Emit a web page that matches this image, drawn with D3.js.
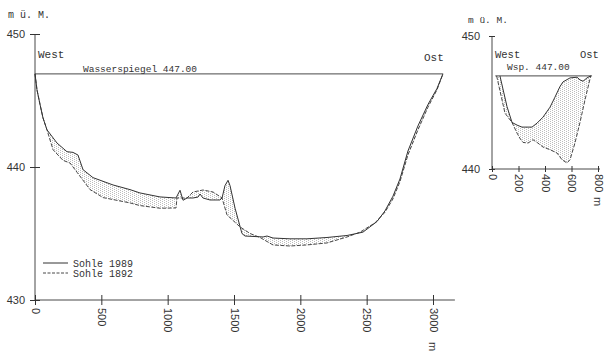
<!DOCTYPE html>
<html>
<head>
<meta charset="utf-8">
<script src="https://cdn.jsdelivr.net/npm/d3@7"></script>
<style>
  body { margin: 0; background: #fff; }
  svg { display: block; }
</style>
</head>
<body>
<svg id="chart" width="608" height="354"></svg>
<script>
// Querprofil, Hauptbecken: [Distanz m, Höhe m ü. M.]
const mainSohle1989 = [
  [0, 447.0], [15, 445.8], [38, 444.7], [60, 443.7], [90, 442.8], [166, 441.8],
  [241, 441.15], [286, 441.1], [324, 440.9], [362, 439.8], [437, 439.2], [588, 438.65],
  [716, 438.3], [791, 438.05], [942, 437.75], [1063, 437.67], [1093, 438.25], [1116, 437.5],
  [1146, 437.67], [1191, 437.67], [1229, 437.74], [1244, 437.97], [1266, 437.67], [1319, 437.52],
  [1394, 437.52], [1410, 437.67], [1432, 438.6], [1455, 439.0], [1470, 438.6], [1508, 436.9],
  [1560, 435.0], [1583, 434.81], [1719, 434.74], [1749, 434.81], [1794, 434.66], [1922, 434.6],
  [2050, 434.6], [2201, 434.7], [2352, 434.85], [2472, 435.1], [2578, 435.9], [2638, 436.7],
  [2698, 437.8], [2751, 439.1], [2811, 441.2], [2887, 443.1], [2962, 444.7], [3030, 445.9],
  [3075, 447.0]
];
const mainSohle1892 = [
  [0, 447.0], [15, 445.8], [38, 444.7], [60, 443.7], [90, 442.8], [136, 441.3],
  [211, 440.5], [264, 440.3], [317, 439.6], [415, 438.3], [513, 437.7], [716, 437.3],
  [791, 437.1], [942, 436.9], [1063, 436.92], [1070, 437.67], [1146, 437.67], [1191, 438.12],
  [1266, 438.27], [1342, 438.12], [1410, 437.67], [1447, 436.4], [1545, 435.5], [1621, 435.0],
  [1696, 434.7], [1794, 434.14], [1922, 434.06], [2050, 434.14], [2201, 434.29], [2352, 434.74],
  [2450, 435.1], [2563, 435.8], [2638, 436.6], [2698, 437.6], [2751, 438.9], [2811, 440.9],
  [2887, 442.8], [2962, 444.5], [3030, 445.8], [3075, 447.0]
];
const mainWasser = [[0, 447.0], [3075, 447.0]];
const mainXTicks = [0, 500, 1000, 1500, 2000, 2500, 3000];
const mainYTicks = [430, 440, 450];

// Querprofil, Nebenbecken
const insetSohle1989 = [
  [60, 447.0], [113, 444.7], [151, 443.5], [189, 443.3], [226, 443.15], [302, 443.15],
  [340, 443.45], [385, 443.9], [438, 444.65], [475, 445.4], [513, 446.2], [536, 446.55],
  [589, 446.85], [642, 446.9], [664, 446.7], [687, 446.6], [717, 446.85], [745, 447.0]
];
const insetSohle1892 = [
  [35, 447.0], [98, 444.2], [151, 443.5], [189, 442.7], [211, 442.3], [234, 442.0],
  [272, 441.95], [309, 442.2], [340, 442.0], [385, 441.65], [438, 441.45], [491, 441.2],
  [528, 440.7], [566, 440.45], [589, 440.7], [626, 441.95], [664, 443.5], [702, 445.2],
  [745, 447.0]
];
const insetWasser = [[25, 447.0], [755, 447.0]];
const insetXTicks = [0, 200, 400, 600, 800];
const insetYTicks = [440, 450];

const ink = '#333';
const labelFont = '"Liberation Mono", monospace';
const numFont = '"Liberation Sans", Arial, sans-serif';

const svg = d3.select('#chart');

// Punktraster fuer die Flaeche zwischen den Sohlen
const stipple = svg.append('defs').append('pattern')
  .attr('id', 'stipple')
  .attr('width', 4).attr('height', 2)
  .attr('patternUnits', 'userSpaceOnUse');
stipple.append('rect').attr('x', 0).attr('y', 0)
  .attr('width', 1).attr('height', 1).attr('fill', '#bdbdbd');
stipple.append('rect').attr('x', 2).attr('y', 1)
  .attr('width', 1).attr('height', 1).attr('fill', '#bdbdbd');

const drawPanel = (cfg) => {
  const { x, y, solid, dashed, water, xTicks, yTicks, tickLen, labelGap, xEnd } = cfg;
  const g = svg.append('g');
  const line = d3.line().x(d => x(d[0])).y(d => y(d[1]));

  // Flaeche zwischen den Linien
  g.append('path')
    .attr('d', line(solid.concat(dashed.slice().reverse())) + 'Z')
    .attr('fill', 'url(#stipple)')
    .attr('stroke', 'none');

  // Achsenlinien
  g.append('line')
    .attr('x1', x(0)).attr('x2', x(0))
    .attr('y1', y(yTicks[0])).attr('y2', y(yTicks[yTicks.length - 1]))
    .attr('stroke', ink).attr('stroke-width', 0.9);
  g.append('line')
    .attr('x1', x(0)).attr('x2', x(xEnd))
    .attr('y1', y(yTicks[0])).attr('y2', y(yTicks[0]))
    .attr('stroke', ink).attr('stroke-width', 0.9);

  const yAxis = g.append('g')
    .attr('transform', `translate(${x(0)},0)`)
    .call(d3.axisLeft(y).tickValues(yTicks).tickFormat(d3.format('d'))
      .tickSize(tickLen).tickSizeOuter(0).tickPadding(cfg.yPad));
  yAxis.select('.domain').remove();
  yAxis.selectAll('.tick line').attr('x1', tickLen).attr('stroke', ink);
  yAxis.selectAll('.tick text')
    .attr('font-family', numFont).attr('font-size', 11).attr('fill', ink);

  const xAxis = g.append('g')
    .attr('transform', `translate(0,${y(yTicks[0])})`)
    .call(d3.axisBottom(x).tickValues(xTicks).tickFormat(d3.format('d'))
      .tickSize(tickLen).tickSizeOuter(0));
  xAxis.select('.domain').remove();
  xAxis.selectAll('.tick line').attr('y1', -tickLen).attr('stroke', ink);
  xAxis.selectAll('.tick text')
    .attr('font-family', numFont).attr('font-size', 11).attr('fill', ink)
    .attr('transform', 'rotate(90)')
    .attr('x', labelGap).attr('y', 0).attr('dy', '0.35em')
    .attr('text-anchor', 'start');

  // Wasserspiegel
  g.append('path').datum(water).attr('d', line)
    .attr('fill', 'none').attr('stroke', ink).attr('stroke-width', 0.9);

  // Sohlen
  g.append('path').datum(dashed).attr('d', line)
    .attr('fill', 'none').attr('stroke', ink).attr('stroke-width', 0.9)
    .attr('stroke-dasharray', '4,1.5');
  g.append('path').datum(solid).attr('d', line)
    .attr('fill', 'none').attr('stroke', ink).attr('stroke-width', 1);

  return g;
};

const xMain = d3.scaleLinear().domain([0, 3000]).range([35, 433]);
const yMain = d3.scaleLinear().domain([430, 450]).range([300, 34]);
const gMain = drawPanel({
  x: xMain, y: yMain, solid: mainSohle1989, dashed: mainSohle1892, water: mainWasser,
  xTicks: mainXTicks, yTicks: mainYTicks, tickLen: 5, labelGap: 8, xEnd: 3165, yPad: 5
});

const xInset = d3.scaleLinear().domain([0, 800]).range([492, 598]);
const yInset = d3.scaleLinear().domain([440, 450]).range([169, 36]);
const gInset = drawPanel({
  x: xInset, y: yInset, solid: insetSohle1989, dashed: insetSohle1892, water: insetWasser,
  xTicks: insetXTicks, yTicks: insetYTicks, tickLen: 3, labelGap: 5, xEnd: 815, yPad: 9
});

const addText = (g, txt, px, py, size, rotate) => {
  const t = g.append('text')
    .attr('font-family', labelFont).attr('font-size', size).attr('fill', ink)
    .text(txt);
  if (rotate) {
    t.attr('transform', `translate(${px},${py}) rotate(90)`).attr('dy', '0.35em');
  } else {
    t.attr('x', px).attr('y', py);
  }
  return t;
};

// Beschriftung Hauptprofil
addText(gMain, 'm ü. M.', 8, 18, 10);
addText(gMain, 'West', 38, 58, 11);
addText(gMain, 'Ost', 424, 61, 11);
addText(gMain, 'Wasserspiegel 447.00', 83, 72, 9.5);
addText(gMain, 'm', xMain(3000), 342, 11, true).attr('font-family', numFont);

// Legende
gMain.append('line').attr('x1', 43).attr('x2', 68).attr('y1', 263).attr('y2', 263)
  .attr('stroke', ink).attr('stroke-width', 1);
gMain.append('line').attr('x1', 43).attr('x2', 68).attr('y1', 273).attr('y2', 273)
  .attr('stroke', ink).attr('stroke-width', 0.9).attr('stroke-dasharray', '3,1.5');
addText(gMain, 'Sohle 1989', 73, 267, 10);
addText(gMain, 'Sohle 1892', 73, 277, 10);

// Beschriftung Nebenprofil
addText(gInset, 'm ü. M.', 468, 23, 9.5);
addText(gInset, 'West', 495, 58, 10.5);
addText(gInset, 'Ost', 580, 58, 10.5);
addText(gInset, 'Wsp. 447.00', 507, 70, 9.5);
addText(gInset, 'm', xInset(800), 197, 11, true).attr('font-family', numFont);
</script>
</body>
</html>
